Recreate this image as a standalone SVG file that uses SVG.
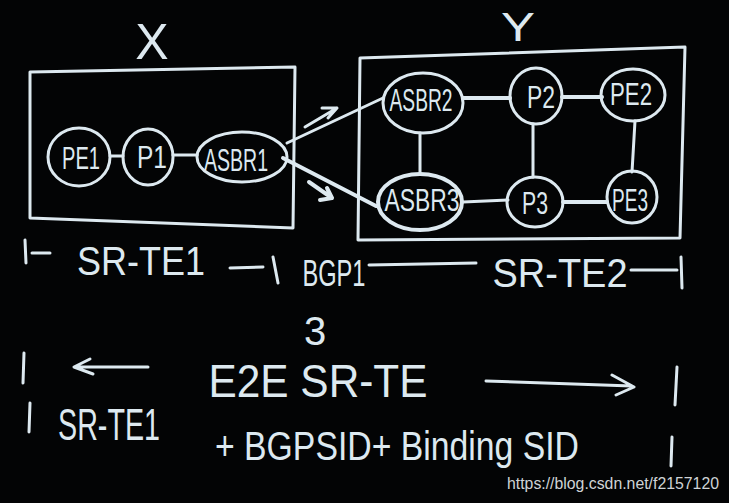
<svg xmlns="http://www.w3.org/2000/svg" width="729" height="503" viewBox="0 0 729 503">
<style>
.bg{fill:#030405}
.s{fill:none;stroke:#dde9f0;stroke-width:3;stroke-linecap:round;stroke-linejoin:round}
.sb{fill:none;stroke:#dde9f0;stroke-width:4;stroke-linecap:round;stroke-linejoin:round}
.t{fill:#dde9f0;font-family:"Liberation Sans",Arial,sans-serif;text-anchor:middle}
.n{font-size:32px;dominant-baseline:central}
.wm{fill:#cfd3d6;font-family:"Liberation Sans",Arial,sans-serif;font-size:16px}
</style>
<rect class="bg" x="0" y="0" width="729" height="503"/>

<g id="domain-x">
  <path class="s" d="M30,72 L295,67 L293,228 L30,218 Z"/>
  <text class="t" x="152" y="59" font-size="50">X</text>
</g>
<g id="domain-y">
  <path class="s" d="M360,58 L685,47 L680,238 L358,240 Z"/>
  <text class="t" x="518" y="41" font-size="40" textLength="34" lengthAdjust="spacingAndGlyphs">Y</text>
</g>

<g id="connectors">
  <line class="s" x1="110" y1="156" x2="123" y2="156"/>
  <line class="s" x1="173" y1="155" x2="197" y2="155"/>
  <line class="s" x1="287" y1="143" x2="383" y2="98"/>
  <line class="sb" x1="283" y1="158" x2="376" y2="206"/>
  <line class="sb" x1="463" y1="98" x2="510" y2="98"/>
  <line class="sb" x1="562" y1="97" x2="602" y2="97"/>
  <line class="s" x1="420" y1="133" x2="420" y2="174"/>
  <line class="s" x1="533" y1="124" x2="533" y2="177"/>
  <line class="s" x1="635" y1="121" x2="632" y2="172"/>
  <line class="s" x1="463" y1="202" x2="508" y2="200"/>
  <line class="sb" x1="563" y1="202" x2="607" y2="202"/>
  <path class="s" d="M305,127 L337,108 M322,108 L337,108 L328,118"/>
  <path class="sb" d="M309,182 L332,198 M327,188 L332,198 L320,200"/>
</g>

<g id="PE1"><ellipse class="s" cx="79" cy="157" rx="31" ry="29"/><text class="t n" x="81" y="158" textLength="38" lengthAdjust="spacingAndGlyphs" font-size="36">PE1</text></g>
<g id="P1"><ellipse class="s" cx="148" cy="157" rx="25" ry="28"/><text class="t n" x="152" y="157" textLength="30" lengthAdjust="spacingAndGlyphs" font-size="40">P1</text></g>
<g id="ASBR1"><ellipse class="s" cx="242" cy="157" rx="45" ry="25"/><text class="t n" x="236" y="160" textLength="64" lengthAdjust="spacingAndGlyphs">ASBR1</text></g>
<g id="ASBR2"><ellipse class="s" cx="423" cy="103" rx="40" ry="30"/><text class="t n" x="421" y="100" textLength="63" lengthAdjust="spacingAndGlyphs">ASBR2</text></g>
<g id="P2"><ellipse class="s" cx="536" cy="96" rx="26" ry="28"/><text class="t n" x="541" y="97" textLength="28" lengthAdjust="spacingAndGlyphs" font-size="38">P2</text></g>
<g id="PE2"><ellipse class="s" cx="633" cy="95" rx="32" ry="26"/><text class="t n" x="631" y="94" textLength="42" lengthAdjust="spacingAndGlyphs" font-size="34">PE2</text></g>
<g id="ASBR3"><ellipse class="sb" cx="420" cy="202" rx="42" ry="28"/><text class="t n" x="422" y="200" textLength="75" lengthAdjust="spacingAndGlyphs">ASBR3</text></g>
<g id="P3"><ellipse class="s" cx="535" cy="202" rx="28" ry="25"/><text class="t n" x="535" y="203" textLength="26" lengthAdjust="spacingAndGlyphs" font-size="34">P3</text></g>
<g id="PE3"><ellipse class="s" cx="632" cy="197" rx="25" ry="26"/><text class="t n" x="630" y="200" textLength="36" lengthAdjust="spacingAndGlyphs" font-size="34">PE3</text></g>

<g id="segments">
  <path class="s" d="M25,240 L26,263 M32,253 L50,253 M230,268 L263,267 M273,257 L278,283"/>
  <text class="t" x="141" y="275" font-size="40" textLength="128" lengthAdjust="spacingAndGlyphs">SR-TE1</text>
  <text class="t" x="334" y="286" font-size="36" textLength="63" lengthAdjust="spacingAndGlyphs">BGP1</text>
  <path class="s" d="M369,265 L476,263"/>
  <text class="t" x="560" y="287" font-size="40" textLength="135" lengthAdjust="spacingAndGlyphs">SR-TE2</text>
  <path class="s" d="M631,270 L677,270 M681,257 L682,288"/>
  <text class="t" x="315" y="345" font-size="40">3</text>
</g>

<g id="e2e">
  <path class="s" d="M24,353 L23,383 M148,367 L74,367 M90,359 L74,367 L93,374"/>
  <text class="t" x="318" y="397" font-size="47" textLength="219" lengthAdjust="spacingAndGlyphs">E2E SR-TE</text>
  <path class="s" d="M486,381 L632,386 M612,375 L634,387 L616,395 M677,367 L675,405"/>
  <path class="s" d="M30,403 L29,432 M672,437 L671,466"/>
  <text class="t" x="109" y="440" font-size="44" textLength="102" lengthAdjust="spacingAndGlyphs">SR-TE1</text>
  <text class="t" x="397" y="460" font-size="40" textLength="364" lengthAdjust="spacingAndGlyphs">+ BGPSID+ Binding SID</text>
</g>

<text class="wm" x="507" y="489" textLength="212" lengthAdjust="spacingAndGlyphs">https://blog.csdn.net/f2157120</text>
</svg>
